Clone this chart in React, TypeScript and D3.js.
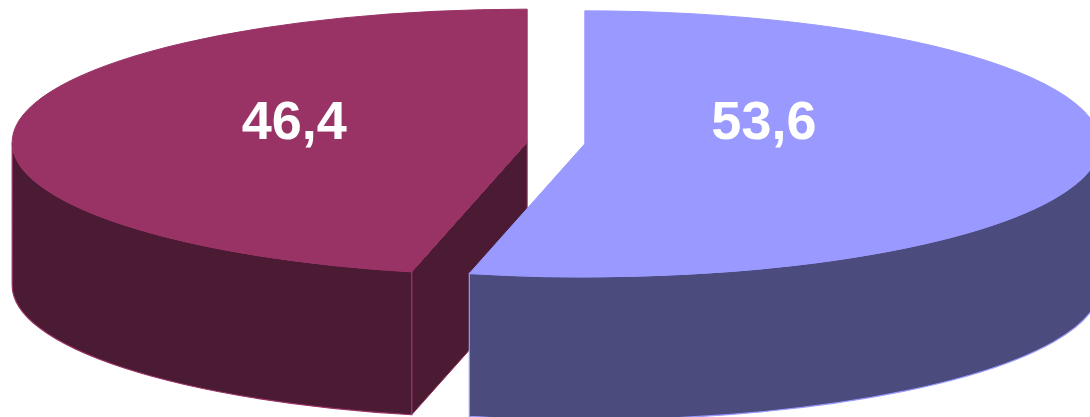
import React from "react";
import * as d3 from "d3";

const categories = ["A", "B"];
const values = [53.6, 46.4];
const labels = ["53,6", "46,4"];
const topColors = ["#9999ff", "#993366"];
const sideColors = ["#4b4c7d", "#4b1a33"];

const W = 1090;
const H = 417;
const CX = 556;
const CY = 143;
const RX = 515;
const RY = 133;
const DEPTH = 143;
const EXPLODE = 29;
// radial position of each label as a fraction of the radius (layout)
const LABEL_R = [0.35, 0.455];

export default function App() {
  const pie = d3
    .pie<number>()
    .sort(null)
    .startAngle(0)
    .endAngle(2 * Math.PI)
    .value((d) => d);
  const arcs = pie(values);

  const slices = arcs.map((a, i) => {
    const mid = (a.startAngle + a.endAngle) / 2;
    const ox = CX + EXPLODE * Math.sin(mid);
    const oy = CY - EXPLODE * Math.cos(mid) * (RY / RX);
    const pt = (t: number, dz = 0): [number, number] => [
      ox + RX * Math.sin(t),
      oy - RY * Math.cos(t) + dz,
    ];
    const a0 = a.startAngle;
    const a1 = a.endAngle;
    const large = a1 - a0 > Math.PI ? 1 : 0;
    const p0 = pt(a0);
    const p1 = pt(a1);
    const top = `M${ox},${oy}L${p0[0]},${p0[1]}A${RX},${RY} 0 ${large} 1 ${p1[0]},${p1[1]}Z`;

    const sides: string[] = [];
    const t0 = Math.max(a0, Math.PI / 2);
    const t1 = Math.min(a1, (3 * Math.PI) / 2);
    if (t1 > t0) {
      const s0 = pt(t0);
      const s1 = pt(t1);
      const b1 = pt(t1, DEPTH);
      const b0 = pt(t0, DEPTH);
      sides.push(
        `M${s0[0]},${s0[1]}A${RX},${RY} 0 0 1 ${s1[0]},${s1[1]}L${b1[0]},${b1[1]}A${RX},${RY} 0 0 0 ${b0[0]},${b0[1]}Z`
      );
    }

    const cuts: string[] = [];
    const face = (t: number) => {
      const e = pt(t);
      const eb = pt(t, DEPTH);
      return `M${ox},${oy}L${e[0]},${e[1]}L${eb[0]},${eb[1]}L${ox},${oy + DEPTH}Z`;
    };
    if (Math.sin(a0) < -1e-6) cuts.push(face(a0));
    if (Math.sin(a1) > 1e-6) cuts.push(face(a1));

    const lx = ox + LABEL_R[i] * RX * Math.sin(mid);
    const ly = CY - 0.17 * RY;

    return { i, top, sides, cuts, lx, ly };
  });

  const order = [1, 0];

  return (
    <svg
      width={W}
      height={H}
      style={{ position: "absolute", left: 0, top: 0, background: "#ffffff" }}
    >
      {order.map((k) => {
        const s = slices[k];
        return (
          <g key={categories[k]}>
            {s.cuts.map((d, j) => (
              <path key={"c" + j} d={d} fill={sideColors[k]} stroke={topColors[k]} strokeWidth={1} />
            ))}
            {s.sides.map((d, j) => (
              <path key={"s" + j} d={d} fill={sideColors[k]} stroke={topColors[k]} strokeWidth={1.2} />
            ))}
            <path d={s.top} fill={topColors[k]} stroke={topColors[k]} strokeWidth={1} />
          </g>
        );
      })}
      {slices.map((s) => (
        <text
          key={"l" + s.i}
          x={s.lx}
          y={s.ly}
          dy="0.35em"
          textAnchor="middle"
          fill="#ffffff"
          fontFamily="'Liberation Sans', Arial, sans-serif"
          fontWeight="bold"
          fontSize={54}
        >
          {labels[s.i]}
        </text>
      ))}
    </svg>
  );
}
